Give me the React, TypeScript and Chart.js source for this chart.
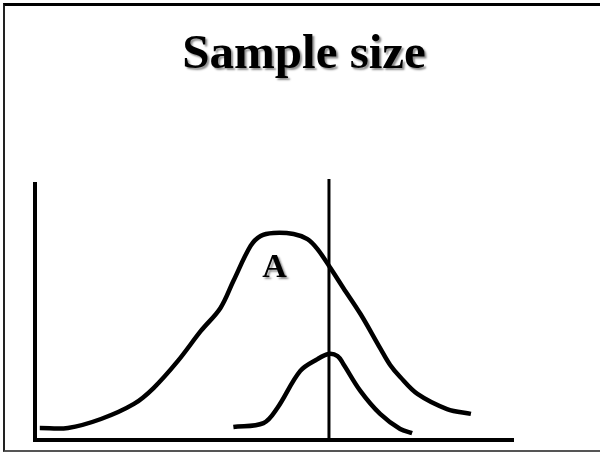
import React, { useEffect, useRef } from "react";
import { Chart, registerables } from "chart.js";

Chart.register(...registerables);

// Wide distribution (curve A): x positions and heights, arbitrary units 0–100
const curveAX = [1.0, 6.9, 13.8, 20.7, 24.8, 29.9, 34.7, 38.8, 41.5, 45.1, 47.2, 49.9, 54.1, 57.0, 59.1, 61.8, 64.5, 68.1, 72.2, 74.3, 76.4, 80.0, 86.2, 91.2];
const curveAY = [4.7, 4.7, 8.2, 14.1, 20.3, 30.9, 42.6, 51.6, 62.1, 75.8, 79.7, 80.9, 80.5, 78.5, 74.6, 67.2, 59.4, 49.2, 35.9, 29.3, 24.6, 18.0, 12.1, 10.2];

// Narrow distribution (larger sample): x positions and heights
const curveBX = [41.5, 47.8, 50.7, 55.5, 59.1, 61.4, 63.3, 64.5, 68.1, 72.2, 76.4, 78.9];
const curveBY = [5.1, 6.6, 12.5, 27.0, 31.6, 33.6, 32.8, 29.7, 19.1, 10.2, 4.3, 2.7];

// Critical value marker
const cutoffX = [61.5, 61.5];
const cutoffY = [0, 102];

// Text annotations
const titleText = "Sample size";
const labelText = ["A"];
const labelX = [50.1];
const labelY = [63.7];

const toPoints = (xs: number[], ys: number[]) => xs.map((x, i) => ({ x, y: ys[i] }));

const textPlugin = {
  id: "slideText",
  afterDraw(chart: any) {
    const { ctx, scales } = chart;
    ctx.save();
    ctx.fillStyle = "#000";
    ctx.shadowColor = "rgba(0,0,0,0.45)";
    ctx.shadowOffsetX = 2;
    ctx.shadowOffsetY = 2;
    ctx.shadowBlur = 2;
    ctx.textAlign = "center";
    ctx.textBaseline = "alphabetic";
    ctx.font = 'bold 49px "Liberation Serif", "Times New Roman", serif';
    ctx.fillText(titleText, 304, 68);
    ctx.font = 'bold 34px "Liberation Serif", "Times New Roman", serif';
    labelText.forEach((t, i) => {
      ctx.fillText(t, scales.x.getPixelForValue(labelX[i]), scales.y.getPixelForValue(labelY[i]));
    });
    ctx.restore();
  },
};

export default function App() {
  const canvasRef = useRef<HTMLCanvasElement | null>(null);

  useEffect(() => {
    document.body.style.margin = "0";
    const canvas = canvasRef.current;
    if (!canvas) return;
    const lineStyle = {
      borderColor: "#000",
      pointRadius: 0,
      fill: false,
      showLine: true,
    };
    const chart = new Chart(canvas, {
      type: "scatter",
      data: {
        datasets: [
          { ...lineStyle, label: "A", data: toPoints(curveAX, curveAY), borderWidth: 4.5, tension: 0.35, borderCapStyle: "butt" },
          { ...lineStyle, label: "B", data: toPoints(curveBX, curveBY), borderWidth: 4.5, tension: 0.35, borderCapStyle: "butt" },
          { ...lineStyle, label: "cutoff", data: toPoints(cutoffX, cutoffY), borderWidth: 3, tension: 0, clip: false },
        ],
      },
      options: {
        responsive: false,
        animation: false,
        events: [],
        layout: { padding: { left: 27, top: 184, right: 87, bottom: 4 } },
        plugins: {
          legend: { display: false },
          tooltip: { enabled: false },
          title: { display: false },
        },
        scales: {
          x: {
            type: "linear",
            min: 0,
            max: 100,
            grid: { display: false },
            ticks: { display: false },
            border: { display: true, color: "#000", width: 4 },
          },
          y: {
            type: "linear",
            min: 0,
            max: 100,
            grid: { display: false },
            ticks: { display: false },
            border: { display: true, color: "#000", width: 4 },
          },
        },
      },
      plugins: [textPlugin],
    } as any);
    return () => chart.destroy();
  }, []);

  return (
    <div style={{ position: "relative", width: 600, height: 452, background: "#fff", overflow: "hidden" }}>
      <canvas ref={canvasRef} width={600} height={452} style={{ display: "block" }} />
      <div
        style={{
          position: "absolute",
          left: 3,
          top: 3,
          right: -4,
          height: 449,
          boxSizing: "border-box",
          borderTop: "3px solid #000",
          borderLeft: "2px solid #222",
          borderBottom: "2px solid #555",
          pointerEvents: "none",
        }}
      />
    </div>
  );
}
